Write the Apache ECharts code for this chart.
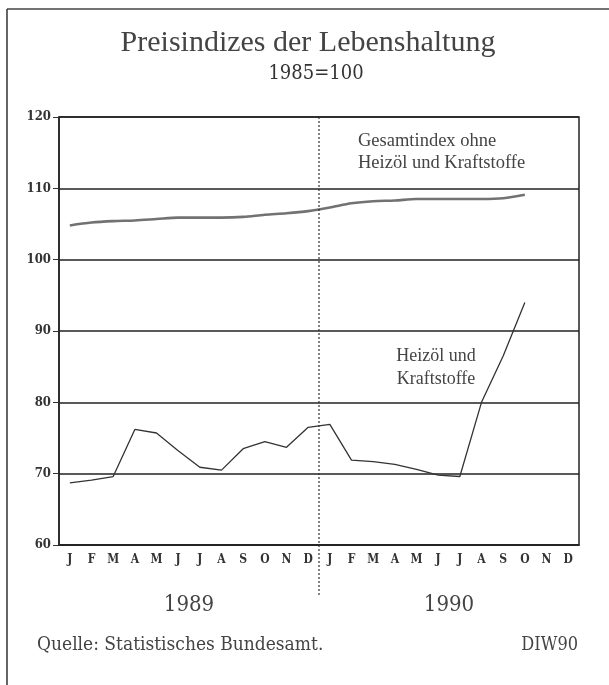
<!DOCTYPE html>
<html>
<head>
<meta charset="utf-8">
<script src="https://cdn.jsdelivr.net/npm/echarts@6/dist/echarts.min.js"></script>
<style>
html, body { margin: 0; padding: 0; background: #fff; }
#chart { width: 609px; height: 685px; }
</style>
</head>
<body>
<div id="chart"></div>
<script>
var months = ['J','F','M','A','M','J','J','A','S','O','N','D',
              'J','F','M','A','M','J','J','A','S','O','N','D'];
var years = ['1989', '1990'];
var yTicks = [60, 70, 80, 90, 100, 110, 120];

// Gesamtindex ohne Heizöl und Kraftstoffe, Jan 1989 - Okt 1990
var gesamt = [104.8, 105.2, 105.4, 105.5, 105.7, 105.9, 105.9, 105.9, 106.0, 106.3, 106.5, 106.8,
              107.3, 107.9, 108.2, 108.3, 108.5, 108.5, 108.5, 108.5, 108.6, 109.1, null, null];
// Heizöl und Kraftstoffe
var heizoel = [68.7, 69.1, 69.6, 76.2, 75.7, 73.2, 70.9, 70.5, 73.5, 74.5, 73.7, 76.5,
               76.9, 71.9, 71.7, 71.3, 70.6, 69.8, 69.6, 80.0, 86.5, 94.0, null, null];

var serif = '"DejaVu Serif Condensed", "DejaVu Serif", serif';
var times = '"Liberation Serif", serif';
var ink = '#333';

var chart = echarts.init(document.getElementById('chart'));

var option = {
    backgroundColor: '#fff',
    animation: false,
    grid: {
        left: 59, right: 30, top: 117, bottom: 140,
        show: true, borderColor: '#222', borderWidth: 1.5
    },
    xAxis: {
        type: 'category',
        data: months,
        boundaryGap: true,
        axisLine: { lineStyle: { color: '#222', width: 1.5 } },
        axisTick: { alignWithLabel: true, length: 6, lineStyle: { color: '#333' } },
        axisLabel: { interval: 0, margin: 9, color: ink, fontFamily: serif, fontSize: 12, fontWeight: 'bold' }
    },
    yAxis: {
        type: 'value',
        min: yTicks[0], max: yTicks[yTicks.length - 1], interval: 10,
        axisLine: { show: true, lineStyle: { color: '#222', width: 1.5 } },
        axisTick: { show: true, length: 6, lineStyle: { color: '#333' } },
        axisLabel: { margin: 8, color: ink, fontFamily: serif, fontSize: 13, fontWeight: 'bold' },
        splitLine: { lineStyle: { color: '#222', width: 1.5 } }
    },
    series: [
        {
            name: 'Gesamtindex ohne Heizöl und Kraftstoffe',
            type: 'line',
            data: gesamt,
            symbol: 'none',
            smooth: 0.3,
            lineStyle: { color: '#727272', width: 2.6 }
        },
        {
            name: 'Heizöl und Kraftstoffe',
            type: 'line',
            data: heizoel,
            symbol: 'none',
            lineStyle: { color: '#333', width: 1.3 }
        }
    ]
};
chart.setOption(option);

// positions derived from the axes
var xLeft = chart.convertToPixel({ xAxisIndex: 0 }, 11);
var xRight = chart.convertToPixel({ xAxisIndex: 0 }, 12);
var xSplit = (xLeft + xRight) / 2;
var yTop = chart.convertToPixel({ yAxisIndex: 0 }, 120);
var yBottom = chart.convertToPixel({ yAxisIndex: 0 }, 60);
var year1X = (chart.convertToPixel({ xAxisIndex: 0 }, 5) + chart.convertToPixel({ xAxisIndex: 0 }, 6)) / 2;
var year2X = (chart.convertToPixel({ xAxisIndex: 0 }, 17) + chart.convertToPixel({ xAxisIndex: 0 }, 18)) / 2;

chart.setOption({
    graphic: [
        // frame
        { type: 'line', shape: { x1: 7, y1: 9, x2: 609, y2: 9 }, style: { stroke: '#444', lineWidth: 1.5 } },
        { type: 'line', shape: { x1: 7, y1: 9, x2: 7, y2: 685 }, style: { stroke: '#333', lineWidth: 1.5 } },
        // title
        { type: 'text', x: 308, y: 43, style: { text: 'Preisindizes der Lebenshaltung', fill: '#444',
            font: '30px ' + times, textAlign: 'center', textVerticalAlign: 'middle' } },
        { type: 'text', x: 316, y: 74, style: { text: '1985=100', fill: '#333',
            font: '20px ' + serif, textAlign: 'center', textVerticalAlign: 'middle' } },
        // dotted divider between the years
        { type: 'line', shape: { x1: xSplit, y1: yTop, x2: xSplit, y2: yBottom + 52 },
            style: { stroke: '#333', lineWidth: 1.2, lineDash: [2, 2] }, z: 10 },
        // years
        { type: 'text', x: year1X, y: 605, style: { text: years[0], fill: '#444',
            font: '22px ' + serif, textAlign: 'center', textVerticalAlign: 'middle' } },
        { type: 'text', x: year2X, y: 605, style: { text: years[1], fill: '#444',
            font: '22px ' + serif, textAlign: 'center', textVerticalAlign: 'middle' } },
        // series labels
        { type: 'text', x: 358, y: 152, style: { text: 'Gesamtindex ohne\nHeizöl und Kraftstoffe', fill: '#444',
            font: '18.5px ' + times, lineHeight: 22, textAlign: 'left', textVerticalAlign: 'middle' } },
        { type: 'text', x: 436, y: 368, style: { text: 'Heizöl und\nKraftstoffe', fill: '#444',
            font: '18px ' + times, lineHeight: 23, textAlign: 'center', textVerticalAlign: 'middle' } },
        // footer
        { type: 'text', x: 37, y: 645, style: { text: 'Quelle: Statistisches Bundesamt.', fill: '#444',
            font: '19px ' + serif, textAlign: 'left', textVerticalAlign: 'middle' } },
        { type: 'text', x: 578, y: 645, style: { text: 'DIW90', fill: '#444',
            font: '18px ' + serif, textAlign: 'right', textVerticalAlign: 'middle' } }
    ]
});

window.onresize = function () { chart.resize(); };
</script>
</body>
</html>
